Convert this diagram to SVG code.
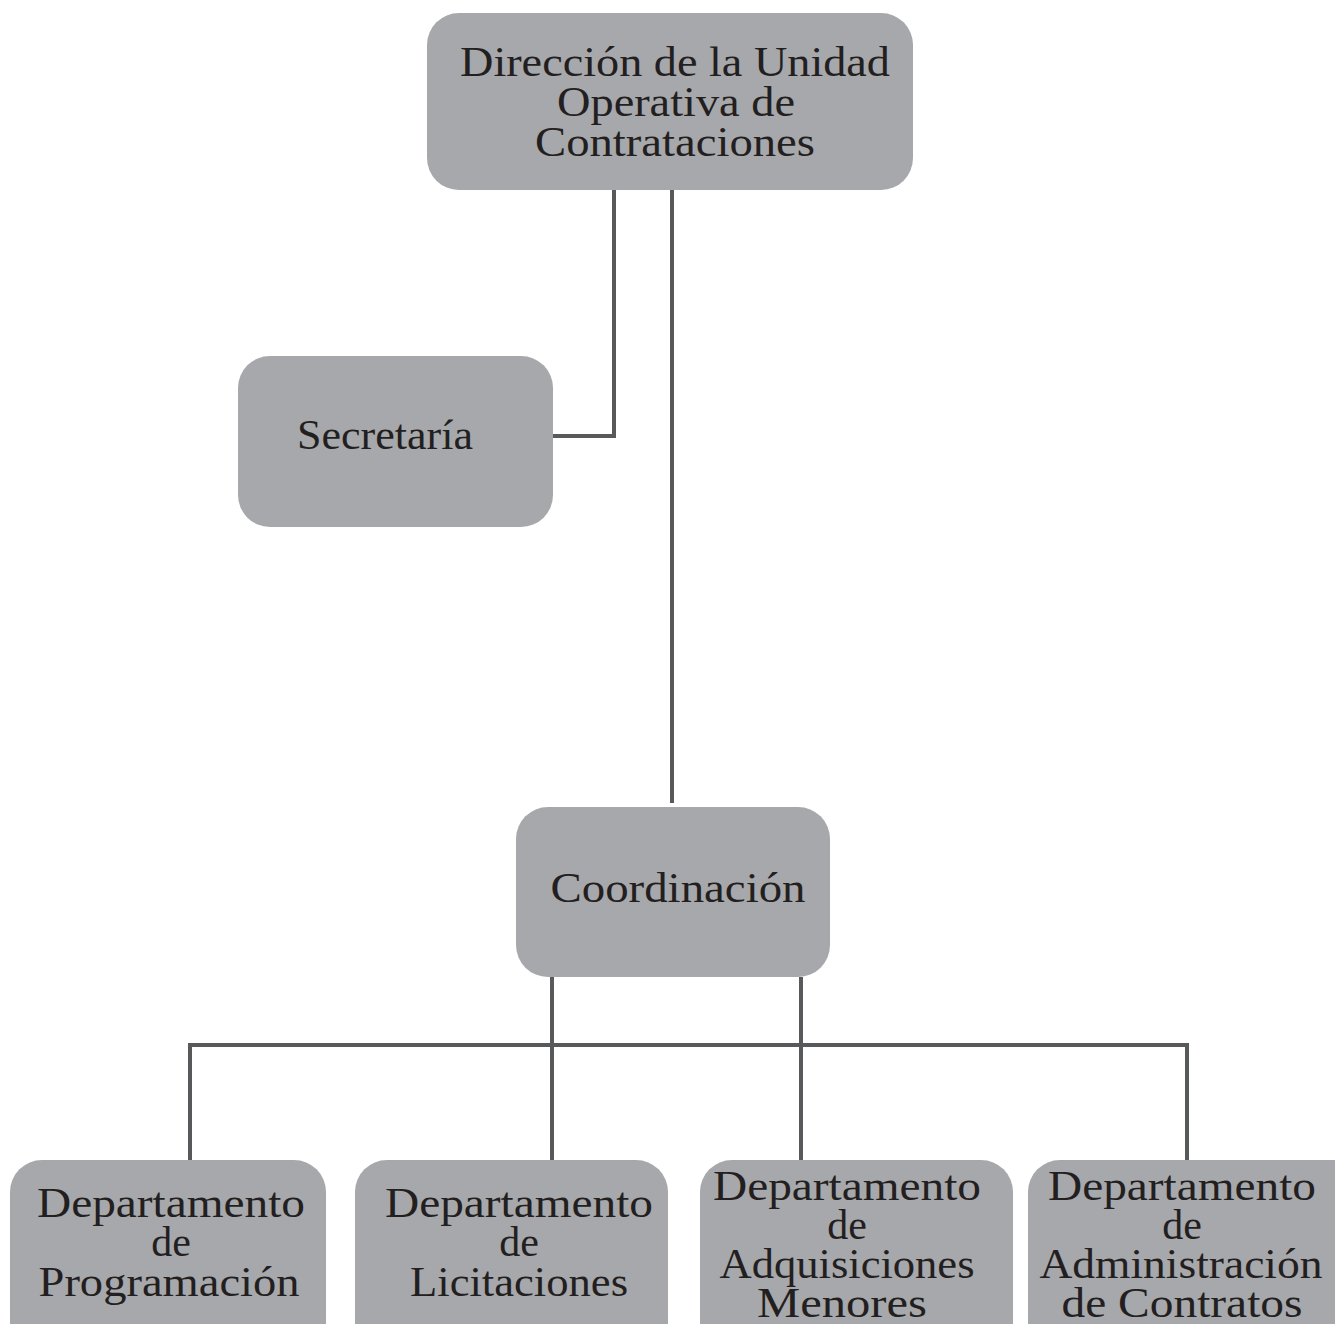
<svg xmlns="http://www.w3.org/2000/svg" width="1335" height="1324" viewBox="0 0 1335 1324">
<style>
.box{fill:#a7a8ab;}
.t{font-family:"Liberation Serif","DejaVu Serif",serif;font-size:42px;fill:#231f20;text-anchor:middle;}
.c{stroke:#58595b;stroke-width:4;fill:none;}
</style>
<rect width="1335" height="1324" fill="#ffffff"/>
<g id="connectors">
<polyline class="c" points="614,190 614,436 553,436"/>
<line class="c" x1="672" y1="190" x2="672" y2="803"/>
<line class="c" x1="552" y1="977" x2="552" y2="1160"/>
<line class="c" x1="801" y1="977" x2="801" y2="1160"/>
<line class="c" x1="188" y1="1045" x2="1189" y2="1045"/>
<line class="c" x1="190" y1="1045" x2="190" y2="1160"/>
<line class="c" x1="1187" y1="1045" x2="1187" y2="1160"/>
</g>
<g id="direccion">
<rect class="box" x="427" y="13" width="486" height="177" rx="32"/>
<text class="t" x="675" y="76" textLength="430" lengthAdjust="spacingAndGlyphs">Dirección de la Unidad</text>
<text class="t" x="676" y="116" textLength="238" lengthAdjust="spacingAndGlyphs">Operativa de</text>
<text class="t" x="675" y="156" textLength="280" lengthAdjust="spacingAndGlyphs">Contrataciones</text>
</g>
<g id="secretaria">
<rect class="box" x="238" y="356" width="315" height="171" rx="32"/>
<text class="t" x="385" y="449" textLength="176" lengthAdjust="spacingAndGlyphs">Secretaría</text>
</g>
<g id="coordinacion">
<rect class="box" x="516" y="807" width="314" height="170" rx="32"/>
<text class="t" x="678" y="902" textLength="255" lengthAdjust="spacingAndGlyphs">Coordinación</text>
</g>
<g id="programacion">
<rect class="box" x="10" y="1160" width="316" height="200" rx="32"/>
<text class="t" x="171" y="1217" textLength="268" lengthAdjust="spacingAndGlyphs">Departamento</text>
<text class="t" x="171" y="1256">de</text>
<text class="t" x="169" y="1296" textLength="261" lengthAdjust="spacingAndGlyphs">Programación</text>
</g>
<g id="licitaciones">
<rect class="box" x="355" y="1160" width="313" height="200" rx="32"/>
<text class="t" x="519" y="1217" textLength="268" lengthAdjust="spacingAndGlyphs">Departamento</text>
<text class="t" x="519" y="1256">de</text>
<text class="t" x="519" y="1296" textLength="218" lengthAdjust="spacingAndGlyphs">Licitaciones</text>
</g>
<g id="adquisiciones">
<rect class="box" x="700" y="1160" width="313" height="200" rx="32"/>
<text class="t" x="847" y="1200" textLength="268" lengthAdjust="spacingAndGlyphs">Departamento</text>
<text class="t" x="847" y="1239">de</text>
<text class="t" x="847" y="1278" textLength="255" lengthAdjust="spacingAndGlyphs">Adquisiciones</text>
<text class="t" x="842" y="1317" textLength="170" lengthAdjust="spacingAndGlyphs">Menores</text>
</g>
<g id="administracion">
<rect class="box" x="1028" y="1160" width="340" height="200" rx="32"/>
<text class="t" x="1182" y="1200" textLength="268" lengthAdjust="spacingAndGlyphs">Departamento</text>
<text class="t" x="1182" y="1239">de</text>
<text class="t" x="1181" y="1278" textLength="283" lengthAdjust="spacingAndGlyphs">Administración</text>
<text class="t" x="1182" y="1317" textLength="241" lengthAdjust="spacingAndGlyphs">de Contratos</text>
</g>
</svg>
